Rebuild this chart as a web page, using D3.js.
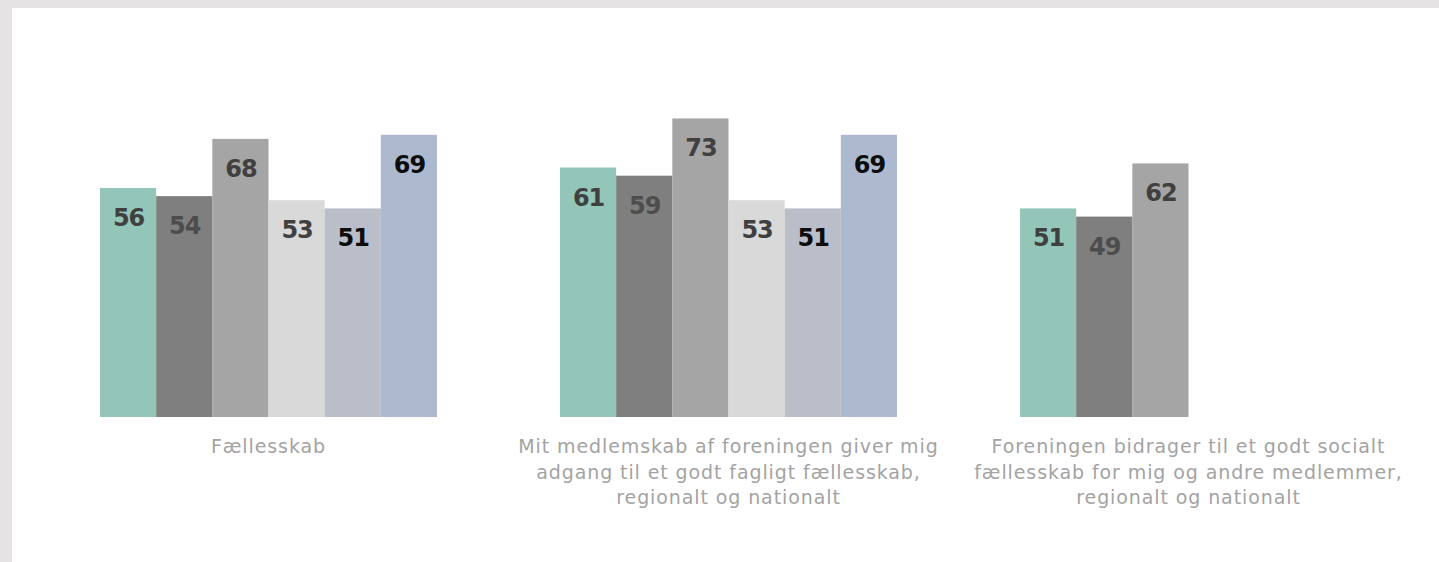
<!DOCTYPE html>
<html>
<head>
<meta charset="utf-8">
<script src="https://cdn.jsdelivr.net/npm/d3@7"></script>
<style>
  html, body { margin: 0; padding: 0; background: #e5e3e3; }
  svg { display: block; }
</style>
</head>
<body>
<svg id="chart" width="1439" height="562"></svg>
<script>
const categories = [
  "Fællesskab",
  "Mit medlemskab af foreningen giver mig\nadgang til et godt fagligt fællesskab,\nregionalt og nationalt",
  "Foreningen bidrager til et godt socialt\nfællesskab for mig og andre medlemmer,\nregionalt og nationalt"
];
const seriesNames = ["Serie 1", "Serie 2", "Serie 3", "Serie 4", "Serie 5", "Serie 6"];
const serie1 = [56, 61, 51];
const serie2 = [54, 59, 49];
const serie3 = [68, 73, 62];
const serie4 = [53, 53, null];
const serie5 = [51, 51, null];
const serie6 = [69, 69, null];
const seriesValues = [serie1, serie2, serie3, serie4, serie5, serie6];
const barColors = ["#93c6b8", "#7f7f7f", "#a5a5a5", "#d9d9d9", "#b9bec8", "#adb9ce"];
const labelColors = ["#404040", "#4d4d4d", "#404040", "#404040", "#0d0d0d", "#0d0d0d"];

const svg = d3.select("#chart");
const W = 1439, H = 562;

// white panel
svg.append("rect").attr("x", 12).attr("y", 8).attr("width", W - 12).attr("height", H - 8).attr("fill", "#ffffff");

const x0 = d3.scaleBand().domain(categories).range([38.5, 1418.5]).paddingInner(0).paddingOuter(0);
const x1 = d3.scaleBand().domain(seriesNames).range([0, x0.bandwidth()]).paddingInner(0).paddingOuter((460 - 337) / 2 / (337 / 6));
const y = d3.scaleLinear().domain([0, 100]).range([417, 8]);

const data = [];
categories.forEach((c, ci) => {
  seriesNames.forEach((s, si) => {
    const v = seriesValues[si][ci];
    if (v != null) data.push({ c, s, si, v });
  });
});

const g = svg.append("g");
g.selectAll("rect.bar").data(data).enter().append("rect")
  .attr("class", "bar")
  .attr("x", d => x0(d.c) + x1(d.s))
  .attr("y", d => y(d.v))
  .attr("width", x1.bandwidth())
  .attr("height", d => y(0) - y(d.v))
  .attr("fill", d => barColors[d.si]);

g.selectAll("text.val").data(data).enter().append("text")
  .attr("class", "val")
  .attr("x", d => x0(d.c) + x1(d.s) + x1.bandwidth() / 2 + 0.5)
  .attr("y", d => y(d.v) + 38)
  .attr("text-anchor", "middle")
  .attr("font-family", "DejaVu Sans, sans-serif")
  .attr("font-weight", "bold")
  .attr("font-size", 24)
  .attr("letter-spacing", -1)
  .attr("fill", d => labelColors[d.si])
  .text(d => d.v);

// category labels
const cl = svg.append("g");
categories.forEach(c => {
  const lines = c.split("\n");
  const t = cl.append("text")
    .attr("x", x0(c) + x0.bandwidth() / 2)
    .attr("y", 453)
    .attr("text-anchor", "middle")
    .attr("font-family", "DejaVu Sans, sans-serif")
    .attr("font-size", 19)
    .attr("letter-spacing", 0.9)
    .attr("fill", "#a3a3a3");
  lines.forEach((ln, i) => {
    t.append("tspan").attr("x", x0(c) + x0.bandwidth() / 2).attr("y", 453 + i * 25.5).text(ln);
  });
});
</script>
</body>
</html>
